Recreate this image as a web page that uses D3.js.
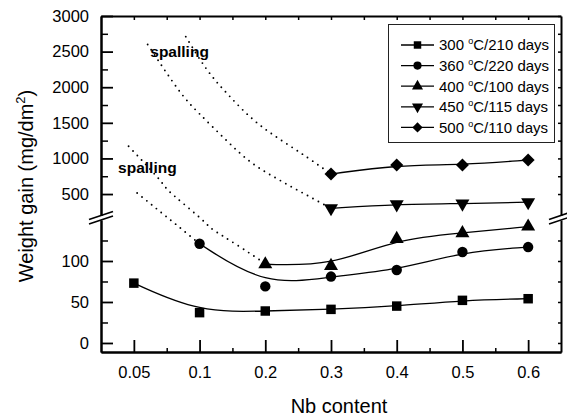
<!DOCTYPE html>
<html>
<head>
<meta charset="utf-8">
<script src="https://cdn.jsdelivr.net/npm/d3@7"></script>
<style>
  body { margin: 0; background: #fff; }
  svg { font-family: "Liberation Sans", Arial, sans-serif; }
</style>
</head>
<body>
<div id="chart"></div>
<script>
// x categories (equally spaced on the axis)
const nbLabels = ["0.05", "0.1", "0.2", "0.3", "0.4", "0.5", "0.6"];

// weight gain per series, null where no sample (spalling)
const s300 = [73, 37, 39, 41, 45, 52, 54];
const s360 = [null, 121, 69, 81, 89, 111, 117];
const s400 = [null, null, 96, 94, 127, 134, 142];
const s450 = [null, null, null, 300, 355, 365, 385];
const s500 = [null, null, null, 781, 908, 908, 978];

const seriesNames = ["300 °C/210 days", "360 °C/220 days", "400 °C/100 days", "450 °C/115 days", "500 °C/110 days"];

// dotted "spalling" guide curves: [x index, weight gain]
const spall360 = [[0.05, 515], [0.35, 290], [0.65, 144], [1, 121]];
const spall400 = [[-0.08, 1170], [0.35, 745], [0.52, 555], [0.78, 345], [1.07, 148], [1.21, 138], [1.56, 120], [1.92, 101], [2, 96]];
const spall450 = [[0.21, 2600], [0.67, 1975], [1, 1625], [1.39, 1270], [1.77, 955], [2.17, 720], [2.58, 510], [3, 300]];
const spall500 = [[0.79, 2710], [1.11, 2250], [1.43, 1900], [1.81, 1550], [2.22, 1270], [2.63, 1020], [3, 781]];

// "spalling" labels: [x index, weight gain]
const spallLabels = [[0.25, 2430], [-0.24, 790]];

// axis ticks
const upperMajor = [500, 1000, 1500, 2000, 2500, 3000];
const upperMinor = [750, 1250, 1750, 2250, 2750];
const lowerMajor = [0, 50, 100];
const lowerMinor = [25, 75, 125];

const W = 567, H = 416;
const margin = { left: 101, right: 561, top: 16, bottom: 352 };

const svg = d3.select("#chart").append("svg")
    .attr("width", W).attr("height", H);

// scales
const x = d3.scaleLinear().domain([-0.5, 6.5]).range([margin.left, margin.right]);
const yLow = d3.scaleLinear().domain([-11, 150]).range([margin.bottom, 220]);
const yUp = d3.scaleLinear().domain([200, 3000]).range([215.4, margin.top]);
const y = v => v < 175 ? yLow(v) : yUp(v);

const idx = nbLabels.map((d, i) => i);
const halfIdx = d3.range(0.5, 6, 1);

// --- axes ---
function styleAxis(g, w) {
    g.select(".domain").attr("stroke", "#000").attr("stroke-width", 2);
    g.selectAll(".tick line").attr("stroke", "#000").attr("stroke-width", w);
    g.selectAll(".tick text").attr("fill", "#000").attr("font-size", "16.5px")
        .attr("font-family", "'Liberation Sans', Arial, sans-serif");
}

// bottom
svg.append("g").attr("transform", `translate(0,${margin.bottom})`)
    .call(d3.axisBottom(x).tickValues(idx).tickFormat(i => nbLabels[i])
        .tickSize(-12).tickSizeOuter(0).tickPadding(14))
    .call(g => styleAxis(g, 1.8));
svg.append("g").attr("transform", `translate(0,${margin.bottom})`)
    .call(d3.axisBottom(x).tickValues(halfIdx).tickFormat("").tickSize(-4).tickSizeOuter(0))
    .call(g => styleAxis(g, 1.5));

// top
svg.append("g").attr("transform", `translate(0,${margin.top})`)
    .call(d3.axisTop(x).tickValues(idx.concat(halfIdx)).tickFormat("").tickSize(-4).tickSizeOuter(0))
    .call(g => styleAxis(g, 1.5));

// left and right, both segments
[[yLow, lowerMajor, lowerMinor], [yUp, upperMajor, upperMinor]].forEach(([sc, maj, min]) => {
    svg.append("g").attr("transform", `translate(${margin.left},0)`)
        .call(d3.axisLeft(sc).tickValues(maj).tickFormat(d3.format("d"))
            .tickSize(-12).tickSizeOuter(0).tickPadding(12))
        .call(g => styleAxis(g, 1.8));
    svg.append("g").attr("transform", `translate(${margin.left},0)`)
        .call(d3.axisLeft(sc).tickValues(min).tickFormat("").tickSize(-7).tickSizeOuter(0))
        .call(g => styleAxis(g, 1.5));
    svg.append("g").attr("transform", `translate(${margin.right},0)`)
        .call(d3.axisRight(sc).tickValues(maj.concat(min)).tickFormat("").tickSize(-3).tickSizeOuter(0))
        .call(g => styleAxis(g, 1.5));
});

// axis break marks
[margin.left, margin.right].forEach(ax => {
    [yUp.range()[0], yLow.range()[1]].forEach(yy => {
        svg.append("line")
            .attr("x1", ax - 12).attr("y1", yy + 4)
            .attr("x2", ax + 12).attr("y2", yy - 4)
            .attr("stroke", "#000").attr("stroke-width", 1.6);
    });
});

// axis titles
svg.append("text")
    .attr("x", (margin.left + margin.right) / 2 + 8).attr("y", 413)
    .attr("text-anchor", "middle")
    .attr("font-size", "20px")
    .text("Nb content");

const yTitle = svg.append("text")
    .attr("transform", `translate(33,${(margin.top + margin.bottom) / 2 + 2}) rotate(-90)`)
    .attr("text-anchor", "middle")
    .attr("font-size", "20px");
yTitle.append("tspan").text("Weight gain (mg/dm");
yTitle.append("tspan").attr("font-size", "13px").attr("dy", -8).text("2");
yTitle.append("tspan").attr("dy", 8).text(")");

// --- dotted spalling curves ---
const dotLine = d3.line().x(d => x(d[0])).y(d => y(d[1])).curve(d3.curveNatural);
[spall360, spall400, spall450, spall500].forEach(pts => {
    svg.append("path")
        .attr("d", dotLine(pts))
        .attr("fill", "none")
        .attr("stroke", "#000")
        .attr("stroke-width", 1.9)
        .attr("stroke-linecap", "round")
        .attr("stroke-dasharray", "0 6.2");
});

svg.selectAll(".spall-label")
    .data(spallLabels)
    .enter().append("text")
    .attr("class", "spall-label")
    .attr("x", d => x(d[0]))
    .attr("y", d => y(d[1]))
    .attr("font-size", "15.5px")
    .attr("font-weight", "bold")
    .text("spalling");

// --- series ---
const symbols = [
    { type: d3.symbolSquare, size: 90, rot: 0 },
    { type: d3.symbolCircle, size: 85, rot: 0 },
    { type: d3.symbolTriangle, size: 85, rot: 0 },
    { type: d3.symbolTriangle, size: 85, rot: 180 },
    { type: d3.symbolSquare, size: 85, rot: 45 }
];
const allSeries = [s300, s360, s400, s450, s500];

const fitLine = d3.line().x(d => x(d[0])).y(d => y(d[1])).curve(d3.curveBasis);

allSeries.forEach((vals, k) => {
    const pts = vals.map((v, i) => [i, v]).filter(d => d[1] != null);
    svg.append("path")
        .attr("d", fitLine(pts))
        .attr("fill", "none")
        .attr("stroke", "#000")
        .attr("stroke-width", 1.3);

    svg.selectAll(".m" + k)
        .data(pts)
        .enter().append("path")
        .attr("class", "m" + k)
        .attr("d", d3.symbol().type(symbols[k].type).size(symbols[k].size))
        .attr("transform", d => `translate(${x(d[0])},${y(d[1])}) rotate(${symbols[k].rot})`)
        .attr("fill", "#000");
});

// --- legend ---
const legend = svg.append("g");
legend.append("rect")
    .attr("x", 388.5).attr("y", 24.5)
    .attr("width", 166).attr("height", 118)
    .attr("fill", "#fff")
    .attr("stroke", "#222").attr("stroke-width", 1);

seriesNames.forEach((name, k) => {
    const ly = 45 + k * 20.6;
    legend.append("line")
        .attr("x1", 401).attr("x2", 434)
        .attr("y1", ly).attr("y2", ly)
        .attr("stroke", "#000").attr("stroke-width", 1.3);
    legend.append("path")
        .attr("d", d3.symbol().type(symbols[k].type).size(symbols[k].size * 0.62))
        .attr("transform", `translate(417.5,${ly}) rotate(${symbols[k].rot})`)
        .attr("fill", "#000");
    const parts = name.split("°");
    const t = legend.append("text")
        .attr("x", 439).attr("y", ly + 5.3)
        .attr("font-size", "15px");
    t.append("tspan").text(parts[0]);
    t.append("tspan").attr("font-size", "9px").attr("dy", -6).text("o");
    t.append("tspan").attr("dy", 6).text(parts[1]);
});
</script>
</body>
</html>
